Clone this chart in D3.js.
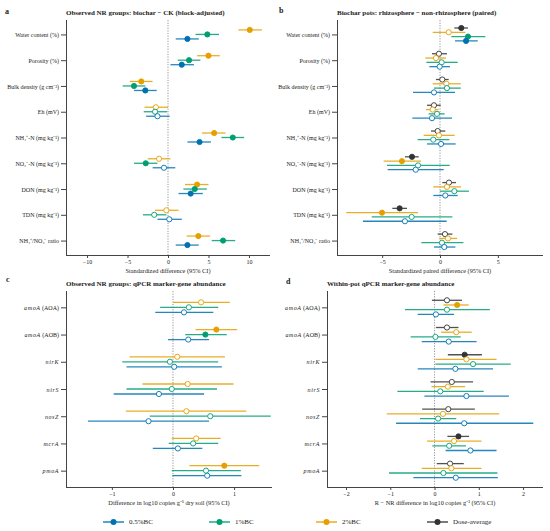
<!DOCTYPE html>
<html>
<head>
<meta charset="utf-8">
<script src="https://cdn.jsdelivr.net/npm/d3@7"></script>
<style>
    body { margin: 0; background: #fff; }
    text { font-family: "Liberation Serif", "Times New Roman", serif; fill: #222; }
</style>
</head>
<body>
<svg id="chart" width="550" height="531"></svg>
<script>
    /*
    Data: each row is [estimate, lower CI, upper CI, significant (1 = filled dot)]
     */
    var soilVars = ["Water content (%)", "Porosity (%)", "Bulk density (g cm\u207B\u00B3)", "Eh (mV)",
        "NH\u2084\u207A-N (mg kg\u207B\u00B9)", "NO\u2083\u207B-N (mg kg\u207B\u00B9)", "DON (mg kg\u207B\u00B9)",
        "TDN (mg kg\u207B\u00B9)", "NH\u2084\u207A/NO\u2083\u207B ratio"];
    var genes = [["amoA", " (AOA)"], ["amoA", " (AOB)"], ["nirK", ""], ["nirS", ""], ["nosZ", ""], ["mcrA", ""], ["pmoA", ""]];

    var seriesNames = ["0.5%BC", "1%BC", "2%BC", "Dose-average"];
    var seriesColors = ["#0072B2", "#009E73", "#E69F00", "#333333"];

    // panel a
    var aBC05 = [[2.4,0.95,3.8,1],[1.7,0.3,3.2,1],[-2.8,-4.2,-1.4,1],[-1.3,-2.7,0.2,0],[3.9,2.4,5.3,1],[-0.5,-1.9,0.9,0],[2.8,1.3,4.3,1],[0.16,-1.3,1.7,0],[2.4,0.95,3.8,1]];
    var aBC1 = [[4.86,3.4,6.3,1],[2.6,1.2,4.0,1],[-4.2,-5.6,-2.8,1],[-1.6,-3.0,-0.1,0],[8.0,6.6,9.4,1],[-2.75,-4.2,-1.3,1],[3.3,1.9,4.8,1],[-1.7,-3.1,-0.2,0],[6.8,5.4,8.3,1]];
    var aBC2 = [[10.1,8.7,11.6,1],[5.0,3.6,6.4,1],[-3.3,-4.7,-1.9,1],[-1.5,-2.9,0,0],[5.7,4.2,7.1,1],[-1.1,-2.5,0.3,0],[3.6,2.1,5.0,1],[-0.2,-1.6,1.3,0],[3.75,2.3,5.2,1]];

    // panel b
    var bAvg = [[1.84,1.24,2.42,1],[-0.09,-0.69,0.6,0],[0.2,-0.35,0.75,0],[-0.52,-1.12,0.06,0],[-0.2,-0.78,0.46,0],[-2.42,-3.03,-1.84,1],[0.78,0.2,1.38,0],[-3.49,-4.12,-2.85,1],[0.43,-0.2,1.07,0]];
    var bBC2 = [[0.75,-0.63,2.19,0],[-0.35,-1.27,0.52,0],[0.55,-0.63,1.79,0],[-0.63,-1.21,-0.12,0],[-0.09,-1.41,1.27,0],[-3.29,-4.87,-1.64,1],[0.6,-0.58,1.82,0],[-5.01,-8.1,-1.9,1],[0.69,-0.06,1.47,0]];
    var bBC1 = [[2.42,0.98,3.92,1],[0.14,-1.18,1.53,0],[0.6,-0.52,1.79,0],[-0.26,-0.98,0.4,0],[-0.58,-1.93,0.81,0],[-1.9,-4.58,0.84,0],[1.24,0,2.5,0],[-2.45,-5.9,1.07,0],[0.17,-1.61,2.02,0]];
    var bBC05 = [[2.25,1.3,3.26,1],[-0.03,-0.92,0.86,0],[-0.52,-2.33,1.3,0],[-0.69,-2.39,1.04,0],[0.09,-1.12,1.35,0],[-2.1,-4.52,0.32,0],[0.46,-0.58,1.53,0],[-3.03,-6.66,0.58,0],[0.37,-0.52,1.33,0]];

    // panel c
    var cBC05 = [[0.18,-0.29,0.66,0],[0.25,-0.08,0.59,0],[0.02,-0.76,0.8,0],[-0.23,-0.97,0.51,0],[-0.4,-1.39,0.59,0],[0.08,-0.33,0.48,0],[0.56,-0.01,1.12,0]];
    var cBC1 = [[0.26,-0.21,0.74,0],[0.53,0.2,0.88,1],[-0.05,-0.83,0.74,0],[-0.02,-0.76,0.72,0],[0.61,-0.38,1.6,0],[0.33,-0.07,0.74,0],[0.54,-0.02,1.11,0]];
    var cBC2 = [[0.46,0,0.93,0],[0.71,0.37,1.05,1],[0.07,-0.71,0.85,0],[0.24,-0.5,0.99,0],[0.22,-0.77,1.2,0],[0.38,-0.02,0.78,0],[0.84,0.27,1.41,1]];

    // panel d
    var dAvg = [[0.28,-0.06,0.62,0],[0.28,0.03,0.54,0],[0.68,0.3,1.07,1],[0.39,-0.09,0.87,0],[0.31,-0.28,0.91,0],[0.54,0.29,0.78,1],[0.35,0.05,0.66,0]];
    var dBC2 = [[0.51,0.2,0.77,1],[0.49,0.15,0.84,0],[0.72,0.02,1.4,0],[0.3,-0.07,0.69,0],[0.19,-1.08,1.46,0],[0.44,-0.17,1.06,0],[0.38,-0.29,1.06,0]];
    var dBC1 = [[0.28,-0.67,1.25,0],[0.02,-0.54,0.59,0],[0.87,0.02,1.72,0],[0.13,-0.84,1.11,0],[0.08,-0.33,0.49,0],[0.33,-0.05,0.71,0],[0.2,-1.03,1.42,0]];
    var dBC05 = [[0.03,-0.38,0.44,0],[0.32,-0.29,0.95,0],[0.47,-0.38,1.32,0],[0.72,-0.23,1.68,0],[0.67,-0.87,2.23,0],[0.81,0.25,1.4,0],[0.48,-0.48,1.43,0]];

    var svg = d3.select("#chart");

    /*
    drawPanel()
        Draws one forest plot panel. Series are listed top to bottom
        within each category row.
     */
    function drawPanel(p) {
        var g = svg.append("g");
        var x = d3.scaleLinear().domain(p.domain).range([p.x0, p.x1]);
        var y = d3.scalePoint().domain(d3.range(p.cats.length)).range([p.y0, p.y1]).padding(p.pad);

        // zero reference line
        g.append("line")
            .attr("x1", x(0)).attr("x2", x(0))
            .attr("y1", p.y0).attr("y2", p.y1)
            .attr("stroke", "#8a8a8a").attr("stroke-width", 0.9)
            .attr("stroke-dasharray", "1.2,1.4");

        // y axis
        var yAxis = g.append("g")
            .attr("transform", "translate(" + p.x0 + ",0)")
            .call(d3.axisLeft(y).tickSize(5).tickPadding(1.5).tickFormat(""));
        yAxis.select(".domain").attr("stroke", "#444").attr("d", "M0.5," + p.y0 + "V" + p.y1);
        yAxis.selectAll(".tick line").attr("stroke", "#444");
        yAxis.selectAll(".tick").each(function(i) {
            var t = d3.select(this).append("text")
                .attr("x", -7).attr("dy", "0.35em")
                .attr("text-anchor", "end")
                .style("font-size", "6px");
            if (p.gene) {
                t.append("tspan").style("font-style", "italic").attr("letter-spacing", "0.6").text(p.cats[i][0]);
                t.append("tspan").text(p.cats[i][1]);
            } else {
                t.text(p.cats[i]);
            }
        });

        // x axis
        var xAxis = g.append("g")
            .attr("transform", "translate(0," + p.y1 + ")")
            .call(d3.axisBottom(x).tickValues(p.ticks).tickSize(3).tickPadding(2)
                .tickFormat(function(d) { return d < 0 ? "\u2212" + Math.abs(d) : d; }));
        xAxis.select(".domain").attr("stroke", "#444").attr("d", "M" + p.x0 + ",0.5H" + p.x1);
        xAxis.selectAll(".tick line").attr("stroke", "#444");
        xAxis.selectAll(".tick text").style("font-size", "6px").attr("fill", "#333")
            .style("font-family", "\"Liberation Serif\", serif");

        g.append("text")
            .attr("x", (p.x0 + p.x1) / 2).attr("y", p.y1 + 17.5)
            .attr("text-anchor", "middle")
            .style("font-size", "6.3px")
            .text(p.xlab);

        g.append("text")
            .attr("x", p.x0).attr("y", p.y0 - 5.5)
            .style("font-size", "7px").style("font-weight", "bold")
            .text(p.title);

        g.append("text")
            .attr("x", p.lx).attr("y", p.ly)
            .style("font-size", "8px").style("font-weight", "bold")
            .text(p.letter);

        // estimates with CI whiskers
        var n = p.series.length;
        p.series.forEach(function(s, k) {
            var off = (k - (n - 1) / 2) * p.step;
            var col = seriesColors[s.idx];
            var sg = g.append("g");
            sg.selectAll("line.ci").data(s.rows).enter().append("line")
                .attr("class", "ci")
                .attr("x1", function(d) { return x(d[1]); })
                .attr("x2", function(d) { return x(d[2]); })
                .attr("y1", function(d, i) { return y(i) + off; })
                .attr("y2", function(d, i) { return y(i) + off; })
                .attr("stroke", col).attr("stroke-width", 1.3).attr("stroke-opacity", 0.85);
            sg.selectAll("circle").data(s.rows).enter().append("circle")
                .attr("cx", function(d) { return x(d[0]); })
                .attr("cy", function(d, i) { return y(i) + off; })
                .attr("r", 2.6)
                .attr("fill", function(d) { return d[3] ? col : "#fff"; })
                .attr("stroke", col).attr("stroke-width", 0.9);
        });
    }

    drawPanel({
        letter: "a", lx: 5, ly: 14,
        title: "Observed NR groups: biochar \u2212 CK (block-adjusted)",
        xlab: "Standardized difference (95% CI)",
        cats: soilVars, gene: false,
        x0: 66, x1: 270, y0: 20, y1: 255, pad: 0.56,
        domain: [-12.6, 12.6], ticks: [-10, -5, 0, 5, 10], step: 4.5,
        series: [{idx: 2, rows: aBC2}, {idx: 1, rows: aBC1}, {idx: 0, rows: aBC05}]
    });

    drawPanel({
        letter: "b", lx: 279, ly: 13,
        title: "Biochar pots: rhizosphere \u2212 non-rhizosphere (paired)",
        xlab: "Standardized paired difference (95% CI)",
        cats: soilVars, gene: false,
        x0: 337, x1: 543, y0: 20, y1: 255, pad: 0.56,
        domain: [-8.9, 8.9], ticks: [-5, 0, 5], step: 4.3,
        series: [{idx: 3, rows: bAvg}, {idx: 2, rows: bBC2}, {idx: 1, rows: bBC1}, {idx: 0, rows: bBC05}]
    });

    drawPanel({
        letter: "c", lx: 6, ly: 282,
        title: "Observed NR groups: qPCR marker-gene abundance",
        xlab: "Difference in log10 copies g\u207B\u00B9 dry soil (95% CI)",
        cats: genes, gene: true,
        x0: 66, x1: 272, y0: 291, y1: 487, pad: 0.6,
        domain: [-1.75, 1.62], ticks: [-1, 0, 1], step: 5,
        series: [{idx: 2, rows: cBC2}, {idx: 1, rows: cBC1}, {idx: 0, rows: cBC05}]
    });

    drawPanel({
        letter: "d", lx: 286, ly: 284,
        title: "Within-pot qPCR marker-gene abundance",
        xlab: "R \u2212 NR difference in log10 copies g\u207B\u00B9 (95% CI)",
        cats: genes, gene: true,
        x0: 327, x1: 543, y0: 291, y1: 487, pad: 0.6,
        domain: [-2.43, 2.45], ticks: [-2, -1, 0, 1, 2], step: 4.7,
        series: [{idx: 3, rows: dAvg}, {idx: 2, rows: dBC2}, {idx: 1, rows: dBC1}, {idx: 0, rows: dBC05}]
    });

    /*
    Legend along the bottom
     */
    var legX = [103, 209, 316, 427];
    var legend = svg.append("g").attr("transform", "translate(0,522)");
    seriesNames.forEach(function(name, i) {
        var lg = legend.append("g").attr("transform", "translate(" + legX[i] + ",0)");
        lg.append("line").attr("x1", 0).attr("x2", 21).attr("y1", 0).attr("y2", 0)
            .attr("stroke", seriesColors[i]).attr("stroke-width", 1.3);
        lg.append("circle").attr("cx", 10.5).attr("cy", 0).attr("r", 3)
            .attr("fill", seriesColors[i]);
        lg.append("text").attr("x", 26).attr("dy", "0.35em")
            .style("font-size", "7px").text(name);
    });
</script>
</body>
</html>
